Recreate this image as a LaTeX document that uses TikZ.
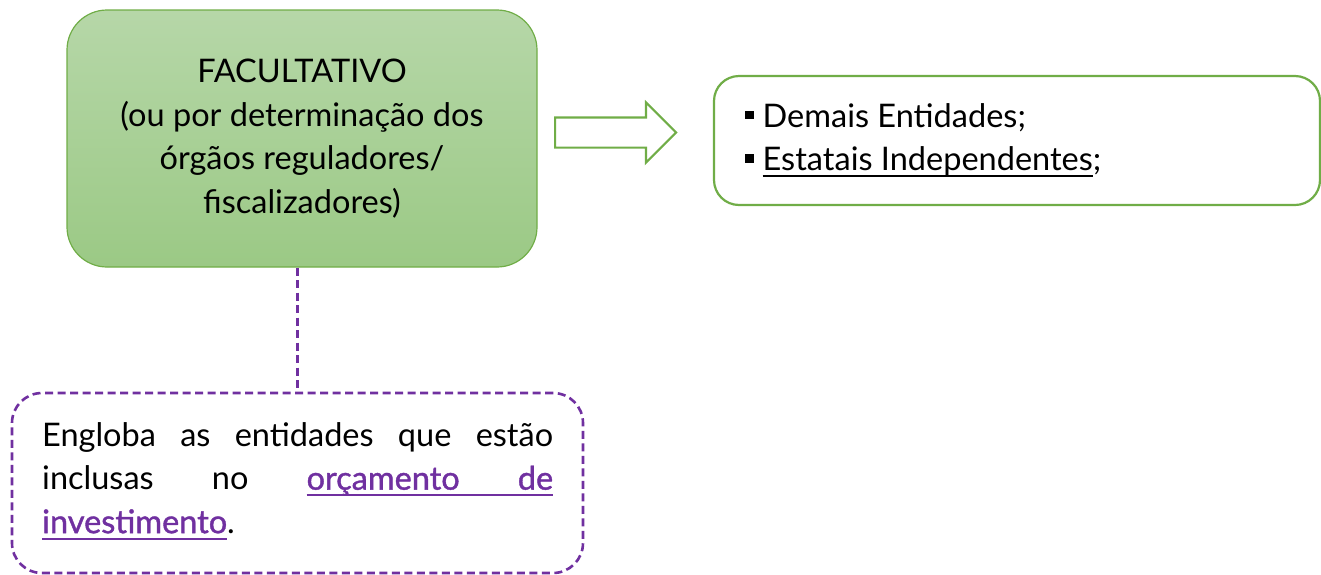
\documentclass[tikz,border=0pt]{standalone}
\usepackage{fontspec}
\setmainfont{Lato}
\usepackage{tikz}
\usetikzlibrary{arrows.meta}
\usetikzlibrary{shapes.arrows}
\usetikzlibrary{positioning}
\definecolor{boxgreen}{HTML}{70AD47}
\definecolor{topgreen}{HTML}{B6D7A8}
\definecolor{botgreen}{HTML}{9BC985}
\definecolor{lilac}{HTML}{7030A0}
\newcommand{\uword}[1]{\setbox0\hbox{#1}\rlap{\vrule height -4.5pt depth 6.5pt width\wd0}\box0}
\newcommand{\ugap}{\leaders\vrule height -4.5pt depth 6.5pt\hskip\fontdimen2\font plus\fontdimen3\font minus\fontdimen4\font}
\newcommand{\sqbullet}{\raisebox{8pt}{\rule{8.5pt}{8.5pt}}\hspace{9pt}}
\tikzset{
bigtext/.style={font=\fontsize{32.5}{43.5}\selectfont},
purpledash/.style={draw=lilac, line width=2.6pt, dash pattern=on 8pt off 4.5pt},
}

\begin{document}
\begin{tikzpicture}[x=1pt,y=-1pt]
    \useasboundingbox (0,0) rectangle (1321,574);

                \node[draw=boxgreen, line width=1.2pt, rounded corners=40pt, top color=topgreen, bottom color=botgreen,
                      minimum width=470pt, minimum height=257pt, align=center, bigtext] (fac) at (302,138.5)
                      {FACULTATIVO\\(ou por determinação dos\\órgãos reguladores/\\fiscalizadores)};
                \node[draw=boxgreen, line width=2.2pt, rounded corners=25pt, fill=white,
                      minimum width=606pt, minimum height=129pt] (list) at (1017,140.5) {};
                \node[anchor=north west, align=left, bigtext, inner sep=0pt] (items) at (745,103)
                      {\sqbullet Demais Entidades;\\
                       \sqbullet\uword{Estatais Independentes};};
                \node[draw=boxgreen, line width=2.2pt, fill=white, shape=single arrow, single arrow head extend=15pt,
                      single arrow head indent=0pt, minimum height=121pt, inner xsep=0pt, inner ysep=14pt, anchor=tail] (arr) at (554,132.5) {};
                \node[purpledash, rounded corners=30pt,
                      minimum width=571pt, minimum height=180pt] (desc) at (297.5,483) {};
                \node[text width=511pt, align=justify, bigtext, inner sep=0pt, anchor=north west] (desctext) at (42,422)
                      {\hyphenpenalty=10000 Engloba as entidades que estão\linebreak inclusas no
                       \textcolor{lilac}{\addfontfeature{FakeBold=1.2}\uword{orçamento}\ugap\uword{de}}\linebreak
                       \textcolor{lilac}{\addfontfeature{FakeBold=1.2}\uword{investimento}}.};

                \draw[purpledash] (desc.north |- fac.south) -- (desc.north);

            \end{tikzpicture}
\end{document}
